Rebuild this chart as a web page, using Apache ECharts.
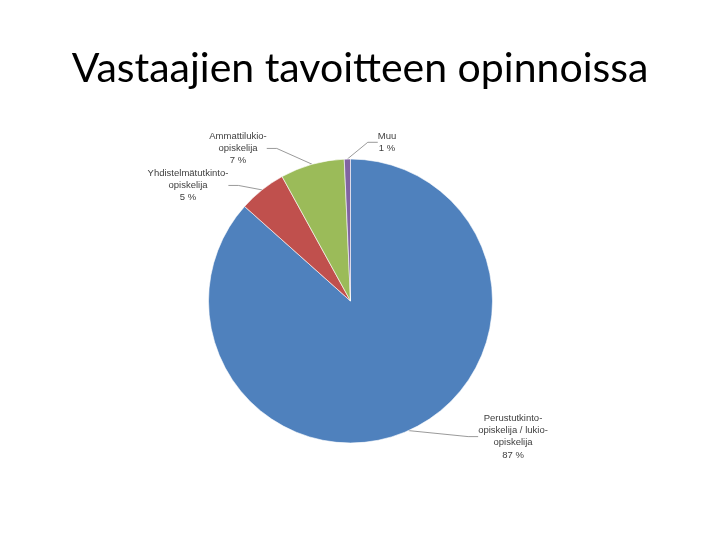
<!DOCTYPE html>
<html><head><meta charset="utf-8">
<script src="https://cdn.jsdelivr.net/npm/echarts@6/dist/echarts.min.js"></script>
<style>html,body{margin:0;padding:0;background:#fff}#c{width:720px;height:540px}</style>
</head><body><div id="c"></div>
<script>
const categories = ['Perustutkinto-opiskelija / lukio-opiskelija', 'Yhdistelmätutkinto-opiskelija', 'Ammattilukio-opiskelija', 'Muu'];
const labelTexts = ['Perustutkinto-\nopiskelija / lukio-\nopiskelija', 'Yhdistelmätutkinto-\nopiskelija', 'Ammattilukio-\nopiskelija', 'Muu'];
const values = [86.6, 5.4, 7.3, 0.7];
const colors = ['#4F81BD', '#C0504D', '#9BBB59', '#8064A2'];
const labelPos = [[513, 412], [188, 167], [238, 130], [387, 130]];

const chart = echarts.init(document.getElementById('c'));
chart.setOption({
  animation: false,
  title: {
    text: 'Vastaajien tavoitteen opinnoissa',
    left: 'center', top: 43,
    textStyle: { fontFamily: 'Lato', fontSize: 41, fontWeight: 'normal', color: '#000' }
  },
  series: [{
    type: 'pie',
    center: [350.5, 301],
    radius: 142,
    startAngle: 90,
    clockwise: true,
    color: colors,
    itemStyle: { borderColor: '#fff', borderWidth: 0.6 },
    data: categories.map((c, i) => ({ name: c, value: values[i] })),
    label: {
      show: true,
      formatter: p => labelTexts[p.dataIndex] + '\n' + Math.round(p.percent) + ' %',
      fontFamily: 'Liberation Sans', fontSize: 9.5, lineHeight: 12.3, color: '#404040', align: 'center'
    },
    labelLine: { show: true, length: 10, length2: 10, lineStyle: { color: '#808080', width: 0.8 } },
    labelLayout: p => ({ x: labelPos[p.dataIndex][0], y: labelPos[p.dataIndex][1], align: 'center', verticalAlign: 'top' })
  }]
});
</script></body></html>
